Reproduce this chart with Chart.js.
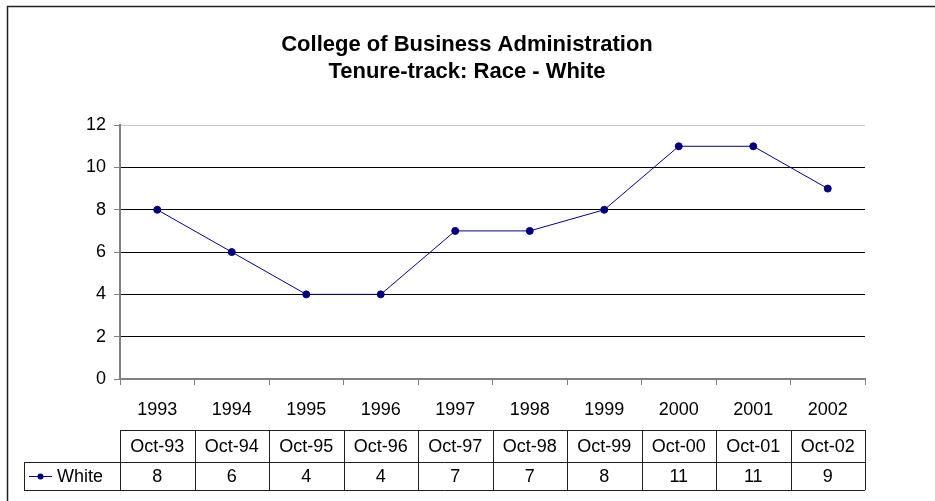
<!DOCTYPE html>
<html>
<head>
<meta charset="utf-8">
<script src="https://cdn.jsdelivr.net/npm/chart.js@4/dist/chart.umd.min.js"></script>
<style>
  html, body { margin: 0; padding: 0; background: #fff; }
  #wrap { width: 935px; height: 501px; position: relative; }
</style>
</head>
<body>
<div id="wrap"><canvas id="chart"></canvas></div>
<script>
// data
const years = ['1993', '1994', '1995', '1996', '1997', '1998', '1999', '2000', '2001', '2002'];
const tableDates = ['Oct-93', 'Oct-94', 'Oct-95', 'Oct-96', 'Oct-97', 'Oct-98', 'Oct-99', 'Oct-00', 'Oct-01', 'Oct-02'];
const white = [8, 6, 4, 4, 7, 7, 8, 11, 11, 9];
const titleLines = ['College of Business Administration', 'Tenure-track: Race - White'];
const seriesName = 'White';

const FONT = 'Arial, "Liberation Sans", sans-serif';
const NAVY = '#000080';

// outer chart border (cut off at right and bottom like the original)
const frame = {
    id: 'frame',
    beforeDraw(chart) {
        const ctx = chart.ctx;
        ctx.save();
        ctx.strokeStyle = '#222';
        ctx.lineWidth = 1.5;
        ctx.strokeRect(7.5, 6.5, 2000, 2000);
        ctx.restore();
    }
};

// data table under the x axis
const dataTable = {
    id: 'dataTable',
    afterDraw(chart) {
        const ctx = chart.ctx;
        const x = chart.scales.x;
        const n = years.length;
        const left = x.left, right = x.right;
        const step = (right - left) / n;
        const top = 430, mid = 462, bottom = 490, legendLeft = 24;

        ctx.save();
        ctx.strokeStyle = '#202020';
        ctx.lineWidth = 1;
        ctx.beginPath();
        ctx.moveTo(left, top + 0.5); ctx.lineTo(right, top + 0.5);
        ctx.moveTo(legendLeft, mid + 0.5); ctx.lineTo(right, mid + 0.5);
        ctx.moveTo(legendLeft, bottom + 0.5); ctx.lineTo(right, bottom + 0.5);
        ctx.moveTo(legendLeft + 0.5, mid); ctx.lineTo(legendLeft + 0.5, bottom);
        for (let i = 0; i <= n; i++) {
            const px = Math.round(left + i * step) + 0.5;
            ctx.moveTo(px, top); ctx.lineTo(px, bottom);
        }
        ctx.stroke();

        ctx.fillStyle = '#000';
        ctx.font = '18px ' + FONT;
        ctx.textAlign = 'center';
        ctx.textBaseline = 'middle';
        for (let i = 0; i < n; i++) {
            const cx = x.getPixelForValue(i);
            ctx.fillText(tableDates[i], cx, (top + mid) / 2 + 1);
            ctx.fillText(String(white[i]), cx, (mid + bottom) / 2 + 1);
        }

        // legend key
        const ly = (mid + bottom) / 2;
        ctx.strokeStyle = NAVY;
        ctx.beginPath();
        ctx.moveTo(29, ly + 0.5); ctx.lineTo(52, ly + 0.5);
        ctx.stroke();
        ctx.fillStyle = NAVY;
        ctx.beginPath();
        ctx.arc(40.5, ly + 0.5, 3, 0, Math.PI * 2);
        ctx.fill();
        ctx.fillStyle = '#000';
        ctx.textAlign = 'left';
        ctx.fillText(seriesName, 57, ly + 1);
        ctx.restore();
    }
};

new Chart(document.getElementById('chart'), {
    type: 'line',
    data: {
        labels: years,
        datasets: [{
            label: seriesName,
            data: white,
            borderColor: NAVY,
            backgroundColor: NAVY,
            borderWidth: 1,
            pointRadius: 3.5,
            pointBackgroundColor: NAVY,
            pointBorderColor: NAVY,
            tension: 0
        }]
    },
    options: {
        responsive: true,
        maintainAspectRatio: false,
        animation: false,
        layout: { padding: { left: 69, right: 70, top: 0, bottom: 0 } },
        plugins: {
            legend: { display: false },
            tooltip: { enabled: false },
            title: {
                display: true,
                text: titleLines,
                color: '#000',
                font: { family: FONT, size: 22, weight: 'bold', lineHeight: 1.23 },
                padding: { top: 31, bottom: 40 }
            }
        },
        scales: {
            x: {
                offset: true,
                afterFit(scale) { scale.height = 122; },
                grid: {
                    offset: true,
                    drawOnChartArea: false,
                    drawTicks: true,
                    tickLength: 6,
                    tickColor: '#808080',
                    tickWidth: 1
                },
                border: { color: '#808080', width: 2 },
                ticks: {
                    color: '#000',
                    padding: 14,
                    maxRotation: 0,
                    font: { family: FONT, size: 18 }
                }
            },
            y: {
                min: 0,
                max: 12,
                afterFit(scale) { scale.width = 51; },
                grid: {
                    color: ctx => (ctx.tick && ctx.tick.value === 12) ? '#c8c8c8' : '#000',
                    lineWidth: 1,
                    tickLength: 6,
                    tickColor: '#808080'
                },
                border: { color: '#808080', width: 2 },
                ticks: {
                    stepSize: 2,
                    color: '#000',
                    padding: 8,
                    font: { family: FONT, size: 18 }
                }
            }
        }
    },
    plugins: [frame, dataTable]
});
</script>
</body>
</html>
